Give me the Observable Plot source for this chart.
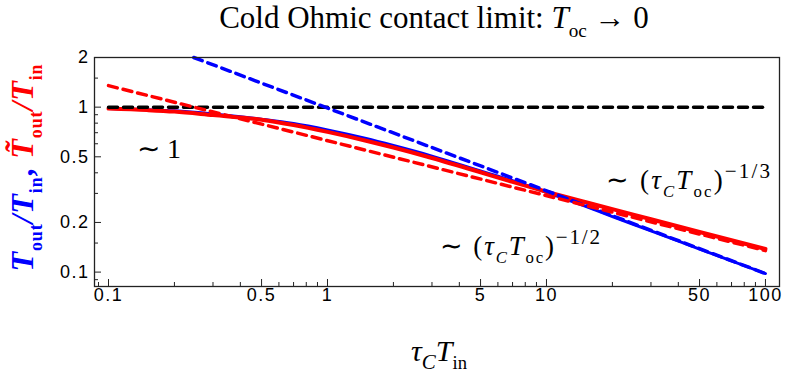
<!DOCTYPE html>
<html><head><meta charset="utf-8">
<script src="https://cdn.jsdelivr.net/npm/d3@7"></script>
<script src="https://cdn.jsdelivr.net/npm/@observablehq/plot@0.6"></script>
<style>body{margin:0;background:#fff}svg{display:block}</style>
</head><body><div id="chart"></div>
<script>
// ---- data ----
const xSolid    = [0.1, 0.15, 0.2, 0.3, 0.5, 0.7, 1, 1.5, 2, 3, 5, 7, 10, 15, 20, 30, 50, 100];
const blueSolid = [0.98, 0.965, 0.95, 0.91, 0.845, 0.795, 0.727, 0.645, 0.585, 0.505, 0.41, 0.358, 0.305, 0.251, 0.217, 0.178, 0.138, 0.098];
const redSolid  = [0.98, 0.96, 0.94, 0.895, 0.84, 0.78, 0.708, 0.626, 0.569, 0.492, 0.403, 0.352, 0.307, 0.266, 0.241, 0.209, 0.175, 0.138];
const blueDashX = [0.245, 100], blueDashY = [2, 0.098];
const redDashX  = [0.1, 100],   redDashY  = [1.35, 0.135];
const blackDashX = [0.1, 100],  blackDashY = [1, 1];
const xMajor = [0.1, 0.5, 1, 5, 10, 50, 100];
const xMinor = [0.09, 0.2, 0.3, 0.4, 0.6, 0.7, 0.8, 0.9, 2, 3, 4, 6, 7, 8, 9, 20, 30, 40, 60, 70, 80, 90];
const yMajor = [0.1, 0.2, 0.5, 1, 2];
const yMinor = [0.09, 0.15, 0.3, 0.4, 0.6, 0.7, 0.8, 0.9, 1.5];
const xDomain = [0.0863, 115.9], yDomain = [0.0818, 2.0];

const W = 789, H = 381, mL = 94, mR = 10, mT = 57, mB = 95;
const pw = W - mL - mR, ph = H - mT - mB;
const pts = (xs, ys) => xs.map((x, i) => ({x, y: ys[i]}));

const plot = Plot.plot({
  width: W, height: H,
  marginLeft: mL, marginRight: mR, marginTop: mT, marginBottom: mB,
  style: {fontFamily: "'Liberation Sans', Arial, sans-serif", fontSize: "18px", color: "#000", background: "#fff", letterSpacing: "1.5px"},
  x: {type: "log", domain: xDomain, axis: null},
  y: {type: "log", domain: yDomain, axis: null},
  marks: [
    Plot.line(pts(xSolid, blueSolid), {x: "x", y: "y", stroke: "#0000ff", strokeWidth: 3, curve: "monotone-x"}),
    Plot.line(pts(xSolid, redSolid), {x: "x", y: "y", stroke: "#ff0000", strokeWidth: 4, curve: "monotone-x"}),
    Plot.line(pts(blackDashX, blackDashY), {x: "x", y: "y", stroke: "#000", strokeWidth: 3.5, strokeDasharray: "9,6"}),
    Plot.line(pts(blueDashX, blueDashY), {x: "x", y: "y", stroke: "#0000ff", strokeWidth: 3.5, strokeDasharray: "9,6"}),
    Plot.line(pts(redDashX, redDashY), {x: "x", y: "y", stroke: "#ff0000", strokeWidth: 3.5, strokeDasharray: "9,6"}),
    Plot.tickX(xMajor, {x: d => d, stroke: "#222", insetTop: ph - 7}),
    Plot.tickX(xMinor, {x: d => d, stroke: "#222", insetTop: ph - 4}),
    Plot.tickY(yMajor, {y: d => d, stroke: "#222", insetRight: pw - 7}),
    Plot.tickY(yMinor, {y: d => d, stroke: "#222", insetRight: pw - 4}),
    Plot.text(xMajor, {x: d => d, text: d => String(d), frameAnchor: "bottom", dy: 14, fill: "#000"}),
    Plot.text(yMajor, {y: d => d, text: d => String(d), frameAnchor: "left", textAnchor: "end", dx: -5, fill: "#000"}),
    Plot.frame({stroke: "#222", strokeWidth: 1.3})
  ]
});
document.getElementById("chart").appendChild(plot);

const svg = d3.select(plot);
const sx = plot.scale("x"), sy = plot.scale("y");
const serif = "'Liberation Serif', 'Times New Roman', serif";

function rich(g, parts, subRatio = 0.62) {
  let shift = 0;
  const base = +g.attr("font-size");
  g.attr("letter-spacing", 0);
  for (const [t, o = {}] of parts) {
    const target = o.sub ? 0.28 : o.sup ? -0.42 : 0;
    const ts = g.append("tspan").text(t);
    const dy = (target - shift) * base;
    if (dy) ts.attr("dy", dy);
    shift = target;
    if (o.italic) ts.attr("font-style", "italic");
    if (o.fill) ts.attr("fill", o.fill);
    if (o.sub || o.sup) ts.attr("font-size", base * (o.ratio || subRatio));
  }
  return g;
}

// title
rich(svg.append("text").attr("x", 434).attr("y", 28).attr("text-anchor", "middle")
  .attr("font-family", serif).attr("font-size", 31),
  [["Cold Ohmic contact limit: "], ["T", {italic: true}], ["oc", {sub: true}], [" → 0"]]);

// x label
rich(svg.append("text").attr("x", 439).attr("y", 361).attr("text-anchor", "middle")
  .attr("font-family", serif).attr("font-size", 30),
  [["τ", {italic: true}], ["C", {italic: true, sub: true, ratio: 0.7}], ["T", {italic: true}], ["in", {sub: true}]]);

// y label
const B = "#0000ff", R = "#ff0000";
rich(svg.append("text").attr("transform", "translate(33,168) rotate(-90)").attr("text-anchor", "middle")
  .attr("font-family", serif).attr("font-size", 32).attr("font-weight", "bold")
  .attr("textLength", 207).attr("lengthAdjust", "spacing"),
  [["T", {italic: true, fill: B}], ["out", {sub: true, fill: B}], ["/", {italic: true, fill: B}],
   ["T", {italic: true, fill: B}], ["in", {sub: true, fill: B}], [", ", {fill: B}],
   ["T\u0303", {italic: true, fill: R}], ["out", {sub: true, fill: R}], ["/", {italic: true, fill: R}],
   ["T", {italic: true, fill: R}], ["in", {sub: true, fill: R}]], 0.56);

// annotations (anchored in data coordinates)
const notes = [
  {x: 0.1355, y: 0.489, len: null, parts: [["∼ 1"]]},
  {x: 18.8, y: 0.317, len: 164, parts: [["∼ ("], ["τ", {italic: true}], ["C", {italic: true, sub: true}], ["T", {italic: true}], ["oc", {sub: true}], [")"], ["−1/3", {sup: true, ratio: 0.78}]]},
  {x: 3.28, y: 0.126, len: 160, parts: [["∼ ("], ["τ", {italic: true}], ["C", {italic: true, sub: true}], ["T", {italic: true}], ["oc", {sub: true}], [")"], ["−1/2", {sup: true, ratio: 0.78}]]}
];
for (const n of notes) {
  const t = svg.append("text").attr("x", sx.apply(n.x)).attr("y", sy.apply(n.y)).attr("text-anchor", "start")
    .attr("font-family", serif).attr("font-size", n.len ? 27 : 28);
  if (n.len) t.attr("textLength", n.len).attr("lengthAdjust", "spacing");
  rich(t, n.parts);
}
</script></body></html>
